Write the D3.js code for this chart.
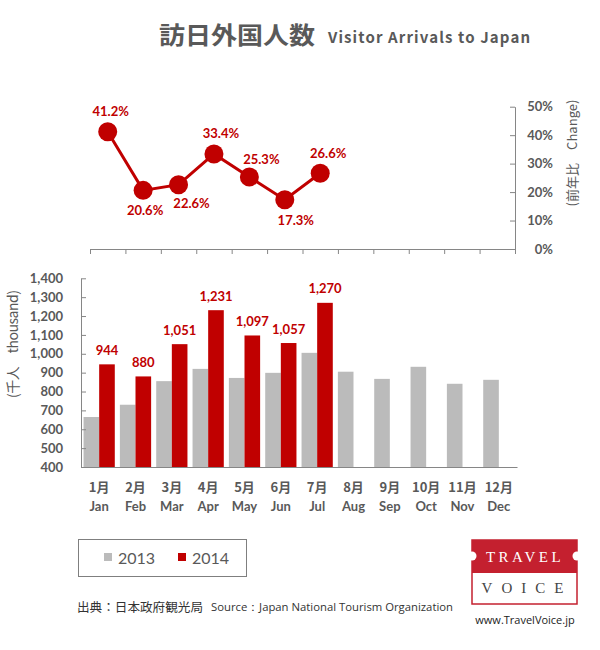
<!DOCTYPE html>
<html>
<head>
<meta charset="utf-8">
<script src="https://cdn.jsdelivr.net/npm/d3@7"></script>
<style>
  html, body { margin: 0; padding: 0; background: #fff; }
  svg { display: block; }
</style>
</head>
<body>
<svg id="chart" width="600" height="650"></svg>
<script>
// ---------------- DATA ----------------
const monthsJa = ["1月","2月","3月","4月","5月","6月","7月","8月","9月","10月","11月","12月"];
const monthsEn = ["Jan","Feb","Mar","Apr","May","Jun","Jul","Aug","Sep","Oct","Nov","Dec"];
const visitors2013 = [665, 730, 855, 920, 872, 899, 1005, 905, 867, 931, 841, 862];
const visitors2014 = [944, 880, 1051, 1231, 1097, 1057, 1270];
const changePct = [41.2, 20.6, 22.6, 33.4, 25.3, 17.3, 26.6];
const barTicks = [400,500,600,700,800,900,1000,1100,1200,1300,1400];
const pctTicks = [0,10,20,30,40,50];
const seriesNames = ["2013","2014"];

// ---------------- STYLE ----------------
const RED = "#C00000", GRAY = "#BBBBBB", TXT = "#595959", AXIS = "#868686";
const NUM_FONT = "Lato, 'Noto Sans', sans-serif";
const JP_FONT = "'Noto Sans CJK JP', 'Noto Sans', sans-serif";
// label placement nudges for the change-% labels (dx, dy from point centre)
const pctLabelNudge = [[3,-16],[2,25],[13,23],[7,-16],[12,-13],[11,25],[8,-15]];

const svg = d3.select("#chart");

// ---------------- TITLE ----------------
svg.append("text").attr("x", 159).attr("y", 44)
  .attr("font-family", JP_FONT).attr("font-weight", 700).attr("font-size", 24)
  .attr("fill", TXT).attr("textLength", 156).attr("lengthAdjust", "spacingAndGlyphs")
  .text("訪日外国人数");
svg.append("text").attr("x", 328).attr("y", 43)
  .attr("font-family", JP_FONT).attr("font-weight", 700).attr("font-size", 15)
  .attr("fill", TXT).attr("textLength", 202).attr("lengthAdjust", "spacing")
  .text("Visitor Arrivals to Japan");

// ---------------- LINE CHART (change %) ----------------
const xL = d3.scaleBand().domain(monthsEn).range([90, 515]).padding(0);
const yL = d3.scaleLinear().domain([0, 50]).range([249, 106.7]);

const gL = svg.append("g");
const xBound = d3.scaleLinear().domain([0, 12]).range([90, 515]);
const axB = d3.axisBottom(xBound).tickValues(d3.range(0, 13)).tickSizeInner(5).tickSizeOuter(0).tickFormat("");
gL.append("g").attr("transform", "translate(0,249)").call(axB)
  .call(g => g.selectAll("path,line").attr("stroke", AXIS).attr("stroke-width", 1));

const axR = d3.axisRight(yL).tickValues(pctTicks).tickSizeInner(-5).tickSizeOuter(0)
  .tickPadding(38).tickFormat(d => d + "%");
gL.append("g").attr("transform", "translate(515,0)").call(axR)
  .call(g => g.selectAll("path,line").attr("stroke", AXIS).attr("stroke-width", 1))
  .call(g => g.selectAll("text").attr("text-anchor", "end")
    .attr("font-family", NUM_FONT).attr("font-weight", 700).attr("font-size", 13).attr("fill", TXT));

svg.append("text").attr("transform", "translate(577,153) rotate(-90)")
  .attr("text-anchor", "middle").attr("font-family", JP_FONT).attr("font-size", 13)
  .attr("fill", TXT).attr("textLength", 107).attr("lengthAdjust", "spacing")
  .text("(前年比　Change)");

const lineData = changePct.map((v, i) => ({ m: monthsEn[i], v, i }));
const cx = d => xL(d.m) + xL.bandwidth() / 2;
gL.append("path").datum(lineData)
  .attr("fill", "none").attr("stroke", RED).attr("stroke-width", 3)
  .attr("d", d3.line().x(cx).y(d => yL(d.v)));
gL.selectAll("circle.pt").data(lineData).join("circle")
  .attr("cx", cx).attr("cy", d => yL(d.v)).attr("r", 9.5).attr("fill", RED);

gL.selectAll("text.pl").data(lineData).join("text")
  .attr("x", d => cx(d) + pctLabelNudge[d.i][0])
  .attr("y", d => yL(d.v) + pctLabelNudge[d.i][1])
  .attr("text-anchor", "middle").attr("font-family", NUM_FONT).attr("font-weight", 700)
  .attr("font-size", 13).attr("fill", RED)
  .text(d => d.v.toFixed(1) + "%");

// ---------------- BAR CHART ----------------
const xB = d3.scaleBand().domain(monthsEn).range([81, 517]).paddingInner(0.14).paddingOuter(0.07);
const xSub = d3.scaleBand().domain(seriesNames).range([0, xB.bandwidth()]);
const yB = d3.scaleLinear().domain([400, 1400]).range([467, 278.3]);

const gB = svg.append("g");
const d13 = visitors2013.map((v, i) => ({ m: monthsEn[i], v }));
const d14 = visitors2014.map((v, i) => ({ m: monthsEn[i], v }));

gB.selectAll("rect.b13").data(d13).join("rect")
  .attr("x", d => xB(d.m) + xSub("2013")).attr("width", xSub.bandwidth())
  .attr("y", d => yB(d.v)).attr("height", d => yB(400) - yB(d.v)).attr("fill", GRAY);
gB.selectAll("rect.b14").data(d14).join("rect")
  .attr("x", d => xB(d.m) + xSub("2014")).attr("width", xSub.bandwidth())
  .attr("y", d => yB(d.v)).attr("height", d => yB(400) - yB(d.v)).attr("fill", RED);

gB.selectAll("text.bl").data(d14).join("text")
  .attr("x", d => xB(d.m) + xSub("2014") + xSub.bandwidth() / 2)
  .attr("y", d => yB(d.v) - 9.5)
  .attr("text-anchor", "middle").attr("font-family", NUM_FONT).attr("font-weight", 700)
  .attr("font-size", 13).attr("fill", RED)
  .text(d => d3.format(",")(d.v));

const axL = d3.axisLeft(yB).tickValues(barTicks).tickSizeInner(-5).tickSizeOuter(0)
  .tickPadding(18).tickFormat(d3.format(","));
gB.append("g").attr("transform", "translate(81,0)").call(axL)
  .call(g => g.selectAll("path,line").attr("stroke", AXIS).attr("stroke-width", 1))
  .call(g => g.selectAll("text").attr("font-family", NUM_FONT).attr("font-weight", 700)
    .attr("font-size", 13).attr("fill", TXT));

const axX = d3.axisBottom(xB).tickSize(0).tickFormat("");
gB.append("g").attr("transform", "translate(0,467)").call(axX)
  .call(g => g.selectAll("path").attr("stroke", AXIS).attr("stroke-width", 1.2));
gB.selectAll("text.xj").data(monthsEn).join("text")
  .attr("x", d => xB(d) + xB.bandwidth() / 2).attr("y", 492)
  .attr("text-anchor", "middle").attr("font-family", JP_FONT).attr("font-weight", 700)
  .attr("font-size", 13).attr("fill", TXT)
  .text((d, i) => monthsJa[i]);
gB.selectAll("text.xe").data(monthsEn).join("text")
  .attr("x", d => xB(d) + xB.bandwidth() / 2).attr("y", 511)
  .attr("text-anchor", "middle").attr("font-family", NUM_FONT).attr("font-weight", 700)
  .attr("font-size", 13).attr("fill", TXT)
  .text(d => d);

svg.append("text").attr("transform", "translate(18,344) rotate(-90)")
  .attr("text-anchor", "middle").attr("font-family", JP_FONT).attr("font-size", 14)
  .attr("fill", TXT).attr("textLength", 108).attr("lengthAdjust", "spacing")
  .text("(千人　thousand)");

// ---------------- LEGEND ----------------
const leg = svg.append("g");
leg.append("rect").attr("x", 78.5).attr("y", 539.5).attr("width", 168).attr("height", 37)
  .attr("fill", "none").attr("stroke", "#7F7F7F").attr("stroke-width", 1);
const legItems = [{ n: seriesNames[0], c: GRAY, x: 104 }, { n: seriesNames[1], c: RED, x: 178 }];
legItems.forEach(it => {
  leg.append("rect").attr("x", it.x).attr("y", 553).attr("width", 8).attr("height", 8).attr("fill", it.c);
  leg.append("text").attr("x", it.x + 14).attr("y", 563.5)
    .attr("font-family", NUM_FONT).attr("font-size", 16).attr("fill", TXT).text(it.n);
});

// ---------------- SOURCE ----------------
svg.append("text").attr("x", 77).attr("y", 612)
  .attr("font-family", JP_FONT).attr("font-size", 12.5).attr("fill", "#333")
  .attr("textLength", 126).attr("lengthAdjust", "spacingAndGlyphs")
  .text("出典：日本政府観光局");
svg.append("text").attr("x", 211).attr("y", 611)
  .attr("font-family", "'Open Sans', sans-serif").attr("font-size", 11.5).attr("fill", "#333")
  .attr("textLength", 242).attr("lengthAdjust", "spacingAndGlyphs")
  .text("Source：Japan National Tourism  Organization");

// ---------------- LOGO ----------------
const LOGO = "#C4202F";
const lg = svg.append("g");
lg.append("rect").attr("x", 472).attr("y", 540).attr("width", 105).attr("height", 64)
  .attr("fill", "#fff").attr("stroke", LOGO).attr("stroke-width", 1.5);
lg.append("rect").attr("x", 472).attr("y", 540).attr("width", 105).attr("height", 33).attr("fill", LOGO);
lg.append("circle").attr("cx", 472).attr("cy", 556).attr("r", 4.5).attr("fill", "#fff");
lg.append("circle").attr("cx", 577).attr("cy", 556).attr("r", 4.5).attr("fill", "#fff");
lg.append("text").attr("x", 525).attr("y", 562).attr("text-anchor", "middle")
  .attr("font-family", "'Liberation Serif', 'DejaVu Serif', serif").attr("font-size", 15)
  .attr("letter-spacing", 3.5).attr("fill", "#fff").text("TRAVEL");
lg.append("text").attr("x", 527).attr("y", 593).attr("text-anchor", "middle")
  .attr("font-family", "'Liberation Serif', 'DejaVu Serif', serif").attr("font-size", 15)
  .attr("letter-spacing", 9).attr("fill", "#444").text("VOICE");
svg.append("text").attr("x", 525).attr("y", 624).attr("text-anchor", "middle")
  .attr("font-family", "'Open Sans', sans-serif").attr("font-size", 11).attr("fill", "#222")
  .text("www.TravelVoice.jp");
</script>
</body>
</html>
